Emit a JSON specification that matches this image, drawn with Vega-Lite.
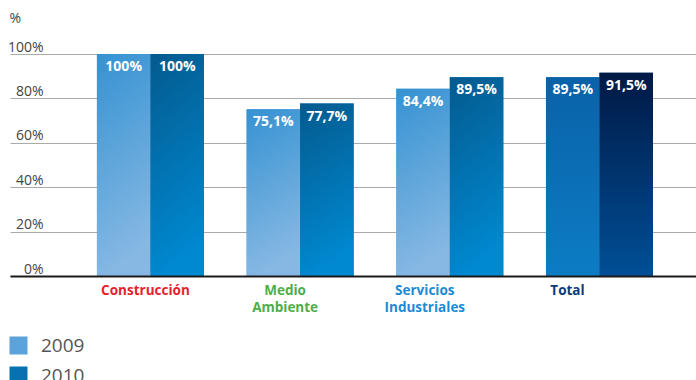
{
  "$schema": "https://vega.github.io/schema/vega-lite/v6.json",
  "width": 686,
  "height": 222,
  "autosize": {"type": "none"},
  "padding": {"left": 10, "top": 54, "right": 0, "bottom": 104},
  "background": "white",
  "config": {"view": {"stroke": null}, "font": "Open Sans"},
  "data": {"values": [
    {"cat": "Construcción", "year": "2009", "serie": "2009", "value": 100, "label": "100%"},
    {"cat": "Construcción", "year": "2010", "serie": "2010", "value": 100, "label": "100%"},
    {"cat": "Medio Ambiente", "year": "2009", "serie": "2009", "value": 75.1, "label": "75,1%"},
    {"cat": "Medio Ambiente", "year": "2010", "serie": "2010", "value": 77.7, "label": "77,7%"},
    {"cat": "Servicios Industriales", "year": "2009", "serie": "2009", "value": 84.4, "label": "84,4%"},
    {"cat": "Servicios Industriales", "year": "2010", "serie": "2010", "value": 89.5, "label": "89,5%"},
    {"cat": "Total", "year": "2009", "serie": "T2009", "value": 89.5, "label": "89,5%"},
    {"cat": "Total", "year": "2010", "serie": "T2010", "value": 91.5, "label": "91,5%"}
  ]},
  "encoding": {
    "x": {
      "field": "cat", "type": "nominal", "sort": null,
      "scale": {"paddingInner": 0.285, "paddingOuter": 0.434, "align": 0.669},
      "axis": {
        "title": null, "domainColor": "#1a1a1a", "domainWidth": 2, "ticks": false,
        "labelAngle": 0, "labelFontSize": 13.5, "labelFontWeight": "bold", "labelPadding": 7,
        "labelLineHeight": 17, "labelBaseline": "top", "zindex": 1, "labelOverlap": false,
        "labelExpr": "split(datum.label, ' ')",
        "labelColor": {
          "condition": [
            {"test": "datum.value === 'Construcción'", "value": "#e3232c"},
            {"test": "datum.value === 'Medio Ambiente'", "value": "#4cae4c"},
            {"test": "datum.value === 'Total'", "value": "#0d3a7a"}
          ],
          "value": "#1b8bd3"
        },
        "labelOffset": {
          "condition": [
            {"test": "datum.value === 'Construcción'", "value": -5},
            {"test": "datum.value === 'Medio Ambiente'", "value": -15},
            {"test": "datum.value === 'Total'", "value": -32}
          ],
          "value": -25
        }
      }
    },
    "xOffset": {"field": "year", "type": "nominal", "scale": {"paddingInner": 0, "paddingOuter": 0}},
    "y": {
      "field": "value", "type": "quantitative", "scale": {"domain": [0, 100]},
      "axis": {
        "title": "%", "titleAngle": 0, "titleX": -1, "titleY": -36, "titleAlign": "left",
        "titleBaseline": "middle", "titleFontSize": 14, "titleFontWeight": "normal", "titleColor": "#444",
        "values": [0, 20, 40, 60, 80, 100], "labelExpr": "datum.value + '%'",
        "labelAlign": "right", "labelPadding": -33, "labelBaseline": "alphabetic", "labelOffset": -3,
        "labelFontSize": 14, "labelColor": "#444", "labelFlush": false, "labelOverlap": false,
        "ticks": false, "domain": false, "grid": true, "gridColor": "#aaaaaa", "gridWidth": 1
      }
    }
  },
  "layer": [
    {
      "mark": {"type": "bar"},
      "encoding": {
        "color": {
          "field": "serie", "type": "nominal",
          "scale": {
            "domain": ["2009", "2010", "T2009", "T2010"],
            "range": ["#5ba3da", "#0672b0", "#0a6fb6", "#00336e"]
          },
          "legend": {
            "orient": "none", "legendX": -1, "legendY": 282, "title": null, "values": ["2009", "2010"],
            "symbolType": "square", "symbolSize": 324, "symbolStrokeWidth": 0,
            "labelFontSize": 19, "labelColor": "#555", "labelOffset": 13, "rowPadding": 10,
            "padding": 0, "direction": "vertical"
          }
        }
      }
    },
    {
      "transform": [{"filter": "datum.serie === '2009'"}],
      "mark": {"type": "bar", "color": {"gradient": "linear", "x1": 0, "y1": 0, "x2": 0.2, "y2": 1, "stops": [{"offset": 0, "color": "#3592d2"}, {"offset": 1, "color": "#86b8e3"}]}}
    },
    {
      "transform": [{"filter": "datum.serie === '2010'"}],
      "mark": {"type": "bar", "color": {"gradient": "linear", "x1": 0, "y1": 0, "x2": 0.2, "y2": 1, "stops": [{"offset": 0, "color": "#045a8e"}, {"offset": 1, "color": "#0088d0"}]}}
    },
    {
      "transform": [{"filter": "datum.serie === 'T2009'"}],
      "mark": {"type": "bar", "color": {"gradient": "linear", "x1": 0, "y1": 0, "x2": 0, "y2": 1, "stops": [{"offset": 0, "color": "#0a62a8"}, {"offset": 1, "color": "#0c7cc4"}]}}
    },
    {
      "transform": [{"filter": "datum.serie === 'T2010'"}],
      "mark": {"type": "bar", "color": {"gradient": "linear", "x1": 0, "y1": 0, "x2": 0, "y2": 1, "stops": [{"offset": 0, "color": "#001945"}, {"offset": 1, "color": "#004f96"}]}}
    },
    {
      "mark": {"type": "text", "color": "white", "fontWeight": "bold", "fontSize": 14, "baseline": "middle", "dy": 13},
      "encoding": {"text": {"field": "label"}}
    }
  ]
}
